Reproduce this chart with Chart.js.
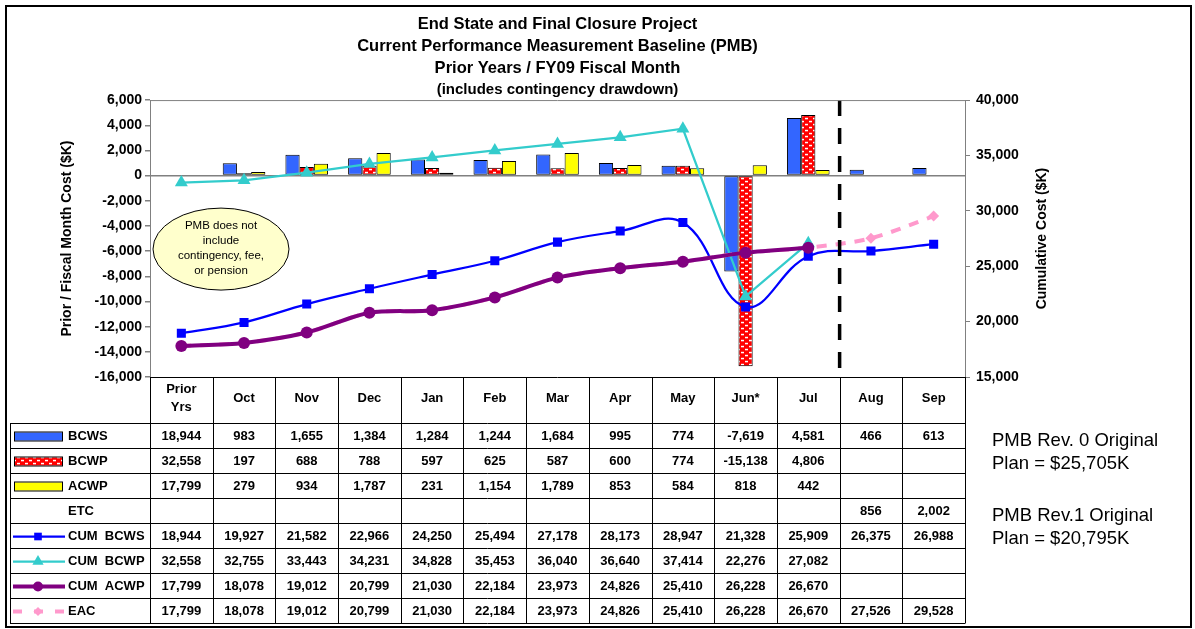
<!DOCTYPE html>
<html>
<head>
<meta charset="utf-8">
<title>End State and Final Closure Project - PMB</title>
<script src="https://cdn.jsdelivr.net/npm/chart.js@4.4.1/dist/chart.umd.min.js"></script>
<style>
  body { margin: 0; background: #fff; }
  canvas { display: block; }
</style>
</head>
<body>
<canvas id="pmbChart" width="1195" height="629"></canvas>
<script>
const months = [["Prior", "Yrs"], "Oct", "Nov", "Dec", "Jan", "Feb", "Mar", "Apr", "May", "Jun*", "Jul", "Aug", "Sep"];

// monthly values ($K)
const bcws = [18944, 983, 1655, 1384, 1284, 1244, 1684, 995, 774, -7619, 4581, 466, 613];
const bcwp = [32558, 197, 688, 788, 597, 625, 587, 600, 774, -15138, 4806, null, null];
const acwp = [17799, 279, 934, 1787, 231, 1154, 1789, 853, 584, 818, 442, null, null];
const etc = [null, null, null, null, null, null, null, null, null, null, null, 856, 2002];

// cumulative values ($K)
const cumBcws = [18944, 19927, 21582, 22966, 24250, 25494, 27178, 28173, 28947, 21328, 25909, 26375, 26988];
const cumBcwp = [32558, 32755, 33443, 34231, 34828, 35453, 36040, 36640, 37414, 22276, 27082, null, null];
const cumAcwp = [17799, 18078, 19012, 20799, 21030, 22184, 23973, 24826, 25410, 26228, 26670, null, null];
const eac = [17799, 18078, 19012, 20799, 21030, 22184, 23973, 24826, 25410, 26228, 26670, 27526, 29528];

const monthTicks = { min: -16000, max: 6000, step: 2000 };
const cumTicks = { min: 15000, max: 40000, step: 5000 };

const notes = [["PMB Rev. 0 Original", "Plan = $25,705K"], ["PMB Rev.1 Original", "Plan = $20,795K"]];
const bubbleText = ["PMB does not", "include", "contingency, fee,", "or pension"];

const FONT = 'Arial, "Liberation Sans", sans-serif';

// prior-year totals only go in the table, the bars start at Oct
function monthly(arr) {
  return arr.map((v, i) => i === 0 ? null : v);
}

function dotPattern() {
  const c = document.createElement('canvas');
  c.width = 8; c.height = 6;
  const g = c.getContext('2d');
  g.fillStyle = '#ff0000';
  g.fillRect(0, 0, 8, 6);
  g.fillStyle = '#ffffff';
  g.fillRect(1, 0.8, 3, 1.5);
  g.fillRect(5, 3.8, 3, 1.5);
  return g.createPattern(c, 'repeat');
}
const redDots = dotPattern();

function drawMarker(ctx, style, x, y, r, color) {
  ctx.save();
  ctx.fillStyle = color;
  ctx.beginPath();
  if (style === 'rect') {
    const s = r * Math.SQRT1_2;
    ctx.rect(x - s, y - s, 2 * s, 2 * s);
  } else if (style === 'triangle') {
    ctx.moveTo(x, y - r);
    ctx.lineTo(x + r * 0.866, y + r / 2);
    ctx.lineTo(x - r * 0.866, y + r / 2);
    ctx.closePath();
  } else if (style === 'rectRot') {
    ctx.moveTo(x, y - r);
    ctx.lineTo(x + r, y);
    ctx.lineTo(x, y + r);
    ctx.lineTo(x - r, y);
    ctx.closePath();
  } else {
    ctx.arc(x, y, r, 0, Math.PI * 2);
  }
  ctx.fill();
  ctx.restore();
}

const tableRows = [
  { name: 'BCWS', values: bcws, bar: '#3366ff' },
  { name: 'BCWP', values: bcwp, bar: redDots },
  { name: 'ACWP', values: acwp, bar: '#ffff00' },
  { name: 'ETC', values: etc },
  { name: 'CUM  BCWS', values: cumBcws, line: '#0000ff', width: 2.25, marker: 'rect', r: 6.4 },
  { name: 'CUM  BCWP', values: cumBcwp, line: '#33cccc', width: 2.25, marker: 'triangle', r: 7.5 },
  { name: 'CUM  ACWP', values: cumAcwp, line: '#800080', width: 4, marker: 'circle', r: 6 },
  { name: 'EAC', values: eac, line: '#ff99cc', width: 4, marker: 'rectRot', r: 5.5, dash: [9, 12] }
];

function drawTable(chart) {
  const ctx = chart.ctx;
  const x = chart.scales.x;
  const area = chart.chartArea;
  const colW = x.getPixelForValue(1) - x.getPixelForValue(0);
  const left = 10, top = area.bottom, headH = 46, rowH = 25;
  const bottom = top + headH + rowH * tableRows.length;

  ctx.save();
  ctx.font = 'bold 13px ' + FONT;
  ctx.fillStyle = '#000';
  ctx.textBaseline = 'middle';
  ctx.textAlign = 'center';

  months.forEach((m, i) => {
    const lines = Array.isArray(m) ? m : [m];
    const cx = x.getPixelForValue(i);
    lines.forEach((t, k) => {
      ctx.fillText(t, cx, top + 21 + (k - (lines.length - 1) / 2) * 18);
    });
  });

  tableRows.forEach((row, j) => {
    const cy = top + headH + rowH * j + rowH / 2 + 1;
    ctx.textAlign = 'left';
    ctx.fillText(row.name, 68, cy);
    ctx.textAlign = 'center';
    row.values.forEach((v, i) => {
      if (v !== null) ctx.fillText(v.toLocaleString('en-US'), x.getPixelForValue(i), cy);
    });

    if (row.bar) {
      ctx.save();
      ctx.fillStyle = row.bar;
      ctx.fillRect(14, cy - 4, 48, 8);
      ctx.strokeStyle = '#000';
      ctx.lineWidth = 1;
      ctx.strokeRect(14.5, cy - 4.5, 48, 9);
      ctx.restore();
    } else if (row.line) {
      ctx.save();
      ctx.strokeStyle = row.line;
      ctx.lineWidth = row.width;
      if (row.dash) ctx.setLineDash(row.dash);
      ctx.beginPath();
      ctx.moveTo(13, cy);
      ctx.lineTo(65, cy);
      ctx.stroke();
      ctx.restore();
      drawMarker(ctx, row.marker, 38, cy, row.r - 1, row.line);
    }
  });

  // grid
  ctx.strokeStyle = '#000';
  ctx.lineWidth = 1;
  ctx.beginPath();
  ctx.moveTo(area.left, top + 0.5);
  ctx.lineTo(area.right, top + 0.5);
  for (let j = 0; j <= tableRows.length; j++) {
    const y = Math.round(top + headH + rowH * j) + 0.5;
    ctx.moveTo(left, y);
    ctx.lineTo(area.right, y);
  }
  ctx.moveTo(left + 0.5, top + headH);
  ctx.lineTo(left + 0.5, bottom + 0.5);
  for (let i = 0; i <= months.length; i++) {
    const vx = Math.round(area.left + colW * i) + 0.5;
    ctx.moveTo(vx, top);
    ctx.lineTo(vx, bottom + 0.5);
  }
  ctx.stroke();
  ctx.restore();
}

const decorations = {
  id: 'decorations',
  afterDatasetsDraw(chart) {
    // fiscal year-to-date divider between Jul and Aug
    const ctx = chart.ctx;
    const x = chart.scales.x;
    const area = chart.chartArea;
    const dx = (x.getPixelForValue(10) + x.getPixelForValue(11)) / 2;
    ctx.save();
    ctx.strokeStyle = '#000';
    ctx.lineWidth = 3.5;
    ctx.setLineDash([16, 12]);
    ctx.beginPath();
    ctx.moveTo(dx, area.top);
    ctx.lineTo(dx, area.bottom);
    ctx.stroke();
    ctx.restore();
  },
  afterDraw(chart) {
    const ctx = chart.ctx;
    const area = chart.chartArea;

    // plot frame top edge
    ctx.save();
    ctx.strokeStyle = '#808080';
    ctx.lineWidth = 1;
    ctx.beginPath();
    ctx.moveTo(area.left, area.top + 0.5);
    ctx.lineTo(area.right, area.top + 0.5);
    ctx.stroke();
    ctx.restore();

    drawTable(chart);

    // callout bubble
    const bx = area.left + 71, by = area.top + 149;
    ctx.save();
    ctx.fillStyle = '#ffffcc';
    ctx.strokeStyle = '#000';
    ctx.lineWidth = 1;
    ctx.beginPath();
    ctx.ellipse(bx, by, 68, 41, 0, 0, Math.PI * 2);
    ctx.fill();
    ctx.stroke();
    ctx.fillStyle = '#000';
    ctx.font = '11.5px ' + FONT;
    ctx.textAlign = 'center';
    ctx.textBaseline = 'middle';
    bubbleText.forEach((t, k) => ctx.fillText(t, bx, by - 23 + k * 15));
    ctx.restore();

    // axis titles
    const midY = (area.top + area.bottom) / 2;
    ctx.save();
    ctx.fillStyle = '#000';
    ctx.font = 'bold 14px ' + FONT;
    ctx.textAlign = 'center';
    ctx.textBaseline = 'middle';
    [[67, 'Prior / Fiscal Month Cost ($K)'], [1042, 'Cumulative Cost ($K)']].forEach(([tx, t]) => {
      ctx.save();
      ctx.translate(tx, midY);
      ctx.rotate(-Math.PI / 2);
      ctx.fillText(t, 0, 0);
      ctx.restore();
    });
    ctx.restore();

    // baseline notes on the right
    ctx.save();
    ctx.fillStyle = '#000';
    ctx.font = '18.5px ' + FONT;
    ctx.textBaseline = 'middle';
    notes.forEach((pair, k) => {
      pair.forEach((t, n) => ctx.fillText(t, 992, 441 + k * 75 + n * 22.5));
    });
    ctx.restore();

    // outer frame
    ctx.save();
    ctx.strokeStyle = '#000';
    ctx.lineWidth = 2;
    ctx.strokeRect(6, 6, 1185, 621);
    ctx.restore();
  }
};

const tickFont = { family: FONT, size: 14, weight: 'bold' };

new Chart(document.getElementById('pmbChart'), {
  type: 'bar',
  data: {
    labels: months,
    datasets: [
      {
        label: 'BCWS', data: monthly(bcws), yAxisID: 'y',
        backgroundColor: '#3366ff', borderColor: '#000', borderWidth: 1, borderSkipped: false,
        categoryPercentage: 0.68, barPercentage: 1.0, order: 10
      },
      {
        label: 'BCWP', data: monthly(bcwp), yAxisID: 'y',
        backgroundColor: redDots, borderColor: '#000', borderWidth: 1, borderSkipped: false,
        categoryPercentage: 0.68, barPercentage: 1.0, order: 10
      },
      {
        label: 'ACWP', data: monthly(acwp), yAxisID: 'y',
        backgroundColor: '#ffff00', borderColor: '#000', borderWidth: 1, borderSkipped: false,
        categoryPercentage: 0.68, barPercentage: 1.0, order: 10
      },
      {
        type: 'line', label: 'CUM BCWS', data: cumBcws, yAxisID: 'y1',
        borderColor: '#0000ff', borderWidth: 2.25, tension: 0.4,
        pointStyle: 'rect', pointRadius: 6.4, pointBorderWidth: 0,
        pointBackgroundColor: '#0000ff', order: 4
      },
      {
        type: 'line', label: 'EAC', data: eac, yAxisID: 'y1',
        borderColor: '#ff99cc', borderWidth: 4, borderDash: [10, 9], tension: 0.3,
        pointStyle: 'rectRot', pointRadius: 5.5, pointBorderWidth: 0,
        pointBackgroundColor: '#ff99cc', order: 3
      },
      {
        type: 'line', label: 'CUM BCWP', data: cumBcwp, yAxisID: 'y1',
        borderColor: '#33cccc', borderWidth: 2.25, tension: 0,
        pointStyle: 'triangle', pointRadius: 7.5, pointBorderWidth: 0,
        pointBackgroundColor: '#33cccc', order: 2
      },
      {
        type: 'line', label: 'CUM ACWP', data: cumAcwp, yAxisID: 'y1',
        borderColor: '#800080', borderWidth: 4, tension: 0.3,
        pointStyle: 'circle', pointRadius: 6, pointBorderWidth: 0,
        pointBackgroundColor: '#800080', order: 1
      }
    ]
  },
  options: {
    responsive: false,
    animation: false,
    layout: { padding: { top: 14, left: 8, right: 6, bottom: 252 } },
    plugins: {
      legend: { display: false },
      tooltip: { enabled: false },
      title: {
        display: true,
        fullSize: false,
        text: ['End State and Final Closure Project', 'Current Performance Measurement Baseline (PMB)', 'Prior Years / FY09 Fiscal Month'],
        color: '#000',
        font: { family: FONT, size: 16.5, weight: 'bold', lineHeight: 1.315 },
        padding: { top: 0, bottom: 0 }
      },
      subtitle: {
        display: true,
        fullSize: false,
        text: '(includes contingency drawdown)',
        color: '#000',
        font: { family: FONT, size: 15, weight: 'bold', lineHeight: 1.2 },
        padding: { top: 1.3, bottom: 1.7 }
      }
    },
    scales: {
      x: {
        display: false
      },
      y: {
        position: 'left',
        min: monthTicks.min,
        max: monthTicks.max,
        afterFit(scale) { scale.width = 142; },
        ticks: { stepSize: monthTicks.step, color: '#000', font: tickFont, padding: 3 },
        grid: {
          drawOnChartArea: true,
          color: (c) => c.tick && c.tick.value === 0 ? '#808080' : 'rgba(0,0,0,0)',
          lineWidth: 1.5,
          tickColor: '#808080',
          tickLength: 5
        },
        border: { color: '#808080', width: 1 }
      },
      y1: {
        position: 'right',
        min: cumTicks.min,
        max: cumTicks.max,
        afterFit(scale) { scale.width = 224; },
        ticks: { stepSize: cumTicks.step, color: '#000', font: tickFont, padding: 6 },
        grid: { drawOnChartArea: false, tickColor: '#808080', tickLength: 5 },
        border: { color: '#808080', width: 1 }
      }
    }
  },
  plugins: [decorations]
});
</script>
</body>
</html>
